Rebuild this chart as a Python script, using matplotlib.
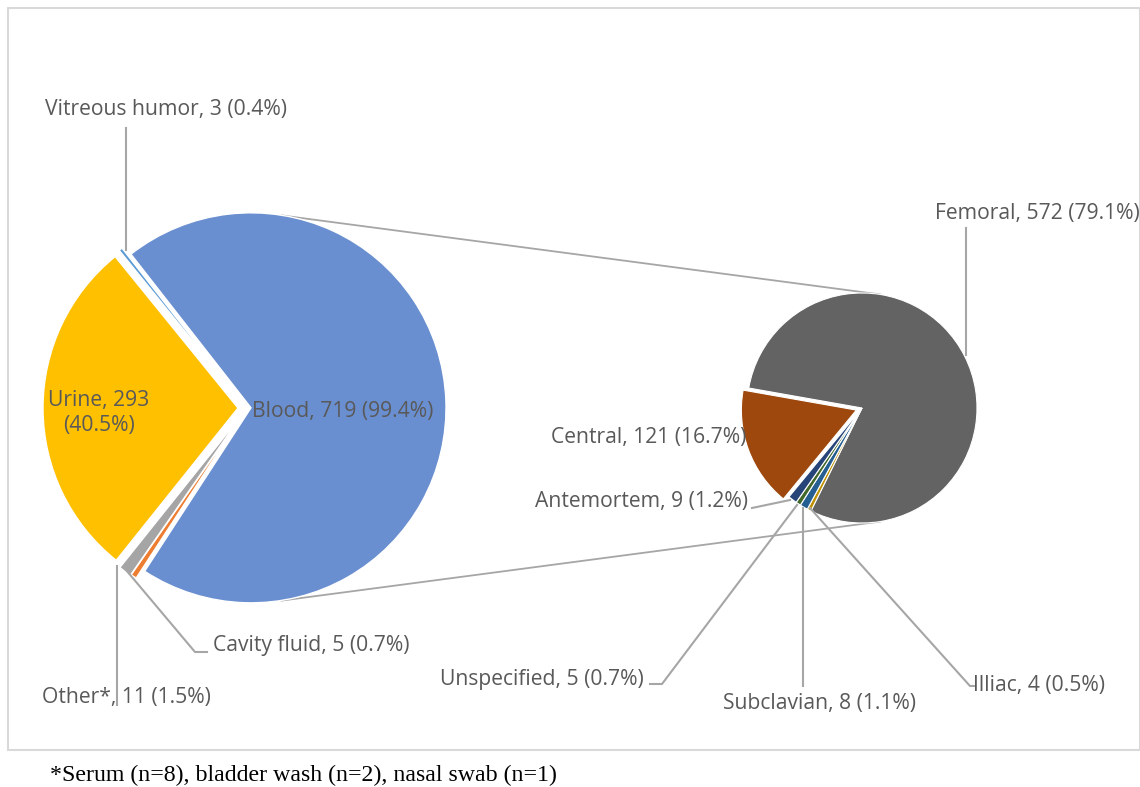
import numpy as np
import matplotlib
matplotlib.use("Agg")
import matplotlib.pyplot as plt
from matplotlib.patches import Rectangle

# ---- data ----
main_labels = ["Blood", "Cavity fluid", "Other*", "Urine", "Vitreous humor"]
main_values = [719, 5, 11, 293, 3]
main_pcts = ["99.4%", "0.7%", "1.5%", "40.5%", "0.4%"]
main_colors = ["#6A8FD0", "#ED7D31", "#A5A5A5", "#FFC000", "#5B9BD5"]

sub_labels = ["Femoral", "Illiac", "Subclavian", "Unspecified", "Antemortem", "Central"]
sub_values = [572, 4, 8, 5, 9, 121]
sub_pcts = ["79.1%", "0.5%", "1.1%", "0.7%", "1.2%", "16.7%"]
sub_colors = ["#636363", "#BF9000", "#255E91", "#43682B", "#264478", "#9E480E"]

footnote = "*Serum (n=8), bladder wash (n=2), nasal swab (n=1)"

W, H = 1140, 787
fig = plt.figure(figsize=(W / 100, H / 100), dpi=100)
ax = fig.add_axes([0, 0, 1, 1])


def Y(y):
    return H - y


FONT = "Open Sans"
FS = 15.2
TC = "#595959"
LC = "#A6A6A6"

# ---- main pie ----
c1 = (247, Y(408))
r1 = 195
ax.pie(main_values, colors=main_colors, startangle=128, counterclock=False,
       radius=r1, center=c1, explode=[4, 8, 9, 9, 8],
       wedgeprops=dict(edgecolor="white", linewidth=1.0), frame=True)

# ---- sub pie ----
c2 = (862, Y(408))
r2 = 115
ax.pie(sub_values, colors=sub_colors, startangle=170, counterclock=False,
       radius=r2, center=c2, explode=[0, 0, 0, 0, 0, 6],
       wedgeprops=dict(edgecolor="white", linewidth=0.8), frame=True)
ax.set_xlim(0, W)
ax.set_ylim(0, H)
ax.set_aspect("equal")
ax.axis("off")

# frame
ax.add_patch(Rectangle((8, Y(750)), 1132, 742, fill=False, edgecolor="#D9D9D9", lw=1.5))

# connector lines
a = np.deg2rad(81)
for s in (1, -1):
    p1 = (c1[0] + 4 + r1 * np.cos(a), c1[1] + s * r1 * np.sin(a))
    p2 = (c2[0] + r2 * np.cos(a), c2[1] + s * r2 * np.sin(a))
    ax.plot([p1[0], p2[0]], [p1[1], p2[1]], color=LC, lw=1.3, zorder=0)


def lbl(name, val, pct):
    return f"{name}, {val} ({pct})"


def leader(pts):
    xs = [p[0] for p in pts]
    ys = [Y(p[1]) for p in pts]
    ax.plot(xs, ys, color=LC, lw=1.5, zorder=3)


def txt(x, y, s, ha="left", **kw):
    ax.text(x, Y(y), s, ha=ha, va="center", fontsize=FS, color=TC, family=FONT, zorder=4, **kw)


# main labels
txt(252, 412, lbl(main_labels[0], main_values[0], main_pcts[0]))
txt(99, 413, f"{main_labels[3]}, {main_values[3]}\n({main_pcts[3]})", ha="center", linespacing=1.3)
txt(45, 110, lbl(main_labels[4], main_values[4], main_pcts[4]))
leader([(126, 128), (126, 250)])
txt(213, 645, lbl(main_labels[1], main_values[1], main_pcts[1]))
leader([(126, 570), (195, 652), (207, 652)])
txt(42, 697, lbl(main_labels[2], main_values[2], main_pcts[2]))
leader([(117, 566), (117, 705)])

# sub labels
txt(935, 214, lbl(sub_labels[0], sub_values[0], sub_pcts[0]))
leader([(966, 228), (966, 355)])
txt(551, 437, lbl(sub_labels[5], sub_values[5], sub_pcts[5]))
txt(535, 501, lbl(sub_labels[4], sub_values[4], sub_pcts[4]))
leader([(752, 508), (790, 500)])
txt(440, 679, lbl(sub_labels[3], sub_values[3], sub_pcts[3]))
leader([(650, 684), (662, 684), (797, 505)])
txt(723, 703, lbl(sub_labels[2], sub_values[2], sub_pcts[2]))
leader([(803, 508), (803, 686)])
txt(973, 686, lbl(sub_labels[1], sub_values[1], sub_pcts[1]))
leader([(810, 508), (970, 686), (975, 686)])

ax.text(50, Y(775), footnote, ha="left", va="center", fontsize=17.2,
        family="Liberation Serif", color="black")

fig.savefig("out.png", dpi=100)
